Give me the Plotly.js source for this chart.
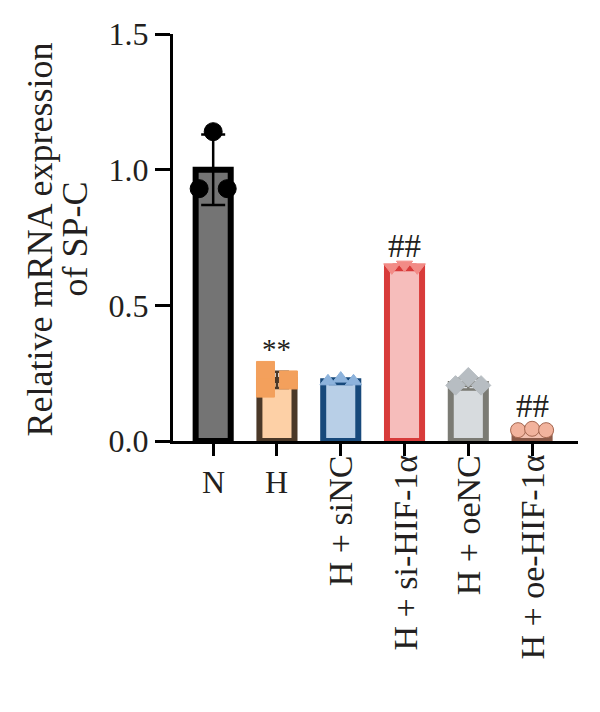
<!DOCTYPE html>
<html>
<head>
<meta charset="utf-8">
<script src="https://cdn.plot.ly/plotly-3.0.1.min.js"></script>
<style>html,body{margin:0;padding:0;background:#fff}#chart{width:600px;height:712px}</style>
</head>
<body>
<div id="chart"></div>
<script>
// ---- data ----
const categories = ["N", "H", "H + siNC", "H + si-HIF-1α", "H + oeNC", "H + oe-HIF-1α"];
const means = [1.00, 0.225, 0.22, 0.64, 0.21, 0.045];
const sds = [0.13, 0.03, 0.01, 0.01, 0.02, 0.005];
const pointsN = [0.93, 1.14, 0.93];
const pointsH = [0.26, 0.195, 0.225];
const pointsSiNC = [0.22, 0.23, 0.22];
const pointsSiHIF = [0.64, 0.65, 0.64];
const pointsOeNC = [0.205, 0.235, 0.205];
const pointsOeHIF = [0.04, 0.045, 0.04];
const pointOffsets = [[-0.22, 0, 0.22], [-0.18, -0.18, 0.18], [-0.2, 0, 0.2], [-0.2, 0, 0.2], [-0.2, 0, 0.2], [-0.22, 0, 0.22]];
const significance = ["", "**", "", "##", "", "##"];
const sigY = [0, 0.34, 0, 0.72, 0, 0.13];
const yTitleLines = ["Relative mRNA expression", "of SP-C"];

// ---- styles ----
const allPoints = [pointsN, pointsH, pointsSiNC, pointsSiHIF, pointsOeNC, pointsOeHIF];
const fills = ["#747474", "#fdd0a6", "#b8cfe7", "#f6bdbb", "#d7dbde", "#f3bfae"];
const borders = ["#000000", "#4a3828", "#17497b", "#d83b3a", "#7b7b74", "#8c5a48"];
const markerColors = ["#000000", "#f3a05c", "#8db3dc", "#f28b86", "#b7bdc2", "#f2b39d"];
const markerLines = ["#000000", "#f3a05c", "#8db3dc", "#f28b86", "#b7bdc2", "#a5664f"];
const symbols = ["circle", "square", "triangle-up", "triangle-down", "diamond", "circle"];
const markerSizes = [18, 18, 14, 14, 15, 15];
const FONT = "Liberation Serif, Times New Roman, serif";
const TXT = "#231f20";

const traces = [];
categories.forEach((c, i) => {
  traces.push({
    type: "bar", x: [i], y: [means[i]], width: 0.55,
    marker: {color: fills[i], line: {color: borders[i], width: 6}},
    error_y: {type: "data", array: [sds[i]], visible: true, color: borders[i], thickness: 2.5, width: 12},
    showlegend: false, hoverinfo: "skip"
  });
});
categories.forEach((c, i) => {
  traces.push({
    type: "scatter", mode: "markers",
    x: allPoints[i].map((v, k) => i + pointOffsets[i][k]), y: allPoints[i],
    marker: {symbol: symbols[i], size: markerSizes[i], color: markerColors[i], line: {color: markerLines[i], width: 1}},
    showlegend: false, hoverinfo: "skip"
  });
});

const annotations = [];
categories.forEach((c, i) => {
  const rotated = c.length > 1;
  annotations.push({
    x: i, xref: "x", y: 0, yref: "paper", text: c, showarrow: false,
    textangle: rotated ? -90 : 0, xanchor: "center", yanchor: "top",
    yshift: rotated ? -13 : -22, borderpad: 0,
    font: {family: FONT, size: rotated ? 34 : 32, color: TXT}
  });
  if (significance[i]) {
    annotations.push({
      x: i, xref: "x", y: sigY[i], yref: "y", text: significance[i], showarrow: false,
      xanchor: "center", yanchor: "middle",
      font: {family: FONT, size: significance[i] === "**" ? 29 : 33, color: TXT}
    });
  }
});
// y-axis title lines
const titleShifts = [-134, -99];
yTitleLines.forEach((t, k) => {
  annotations.push({
    x: 0, xref: "paper", y: 0.5, yref: "paper", text: t, showarrow: false,
    textangle: -90, xanchor: "center", yanchor: "middle", xshift: titleShifts[k], yshift: -2,
    borderpad: 0, font: {family: FONT, size: 36, color: TXT}
  });
});

const layout = {
  width: 600, height: 712,
  margin: {l: 173, r: 22, t: 34, b: 271},
  paper_bgcolor: "#fff", plot_bgcolor: "#fff",
  barmode: "overlay",
  xaxis: {
    range: [-0.63, 5.72], tickvals: [0, 1, 2, 3, 4, 5], showticklabels: false,
    ticks: "outside", ticklen: 12, tickwidth: 3, tickcolor: "#000",
    showline: true, linewidth: 3, linecolor: "#000", showgrid: false, zeroline: false
  },
  yaxis: {
    range: [0, 1.5], tickvals: [0, 0.5, 1.0, 1.5], ticktext: ["0.0", "0.5", "1.0", "1.5"],
    ticks: "outside", ticklen: 15, tickwidth: 3, tickcolor: "#000",
    showline: true, linewidth: 3, linecolor: "#000", showgrid: false, zeroline: false,
    tickfont: {family: FONT, size: 32, color: TXT}
  },
  annotations: annotations
};

Plotly.newPlot("chart", traces, layout, {staticPlot: true, displayModeBar: false});
</script>
</body>
</html>
